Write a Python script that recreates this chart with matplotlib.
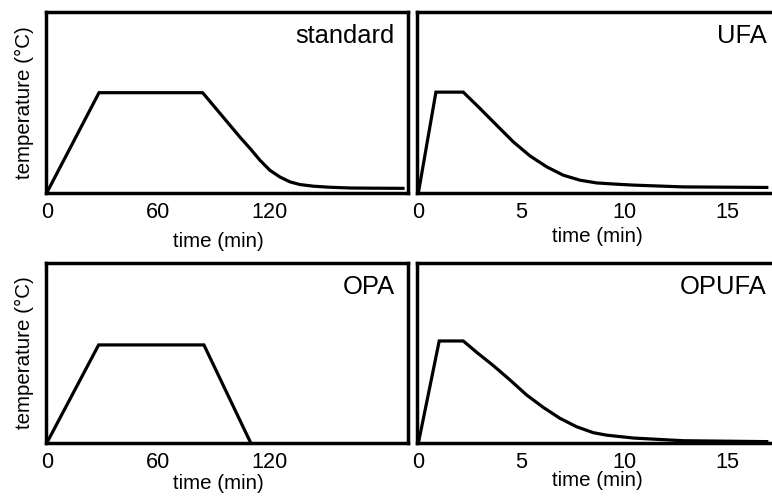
import matplotlib
matplotlib.use("Agg")
import matplotlib.pyplot as plt

plt.rcParams['font.family'] = ['Liberation Sans', 'DejaVu Sans']

# ---- data (time in min, temperature in relative units) ----
standard_t = [0, 28.1, 84.0, 104.2, 109.6, 114.9, 120.3, 125.7, 131.1, 136.5,
              143.7, 152.7, 163.5, 174.3, 192.1]
standard_T = [0, 55.3, 55.3, 30.6, 24.4, 17.9, 12.3, 8.6, 5.9, 4.4,
              3.5, 2.9, 2.5, 2.4, 2.3]

opa_t = [0, 27.9, 84.7, 109.9]
opa_T = [0, 54.5, 54.5, 0]

ufa_t = [0, 0.85, 2.18, 2.99, 3.80, 4.61, 5.42, 6.24, 7.04, 7.86, 8.67, 9.64,
         10.45, 12.88, 16.94]
ufa_T = [0, 55.6, 55.6, 46.6, 37.3, 28.1, 20.3, 14.2, 9.6, 6.8, 5.3, 4.6,
         4.1, 3.1, 2.8]

opufa_t = [0, 1.01, 2.18, 2.83, 3.64, 4.45, 5.26, 6.07, 6.88, 7.69, 8.50, 9.15,
           10.45, 12.88, 16.94]
opufa_T = [0, 56.7, 56.7, 50.4, 43.0, 35.0, 26.6, 19.7, 13.6, 8.9, 5.6, 4.2,
           2.6, 1.1, 0.6]

long_ticks = [0, 60, 120]
short_ticks = [0, 5, 10, 15]
panel_names = ["standard", "UFA", "OPA", "OPUFA"]

W, H = 772, 501
fig = plt.figure(figsize=(W / 100, H / 100), dpi=100)

def px_axes(l, t, r, b):
    return fig.add_axes([l / W, 1 - b / H, (r - l) / W, (b - t) / H])

ax1 = px_axes(46, 12, 408, 192.5)
ax2 = px_axes(417, 12, 775, 192.5)
ax3 = px_axes(46, 263.3, 408, 442.7)
ax4 = px_axes(417, 263.3, 775, 442.7)

specs = [
    (ax1, standard_t, standard_T, long_ticks, (-0.5, 194.8), panel_names[0], True, (0.475, -0.27), 0.964, 0.828),
    (ax2, ufa_t, ufa_T, short_ticks, (-0.07, 17.34), panel_names[1], False, (0.504, -0.245), 0.977, 0.828),
    (ax3, opa_t, opa_T, long_ticks, (-0.5, 194.8), panel_names[2], True, (0.475, -0.225), 0.964, 0.827),
    (ax4, opufa_t, opufa_T, short_ticks, (-0.07, 17.34), panel_names[3], False, (0.504, -0.213), 0.977, 0.827),
]

for ax, t, T, ticks, xl, name, ylab, xlab_pos, tx, ty in specs:
    ax.plot(t, T, color='black', lw=2.3, solid_joinstyle='miter', clip_on=True)
    ax.set_xlim(*xl)
    ax.set_ylim(0, 100)
    ax.set_xticks(ticks)
    ax.set_xticklabels([str(v) for v in ticks])
    ax.set_yticks([])
    ax.tick_params(axis='x', length=0, pad=7, labelsize=15.6)
    for s in ax.spines.values():
        s.set_linewidth(2.5)
        s.set_color('black')
    ax.set_xlabel("time (min)", fontsize=14.8)
    ax.xaxis.set_label_coords(*xlab_pos)
    ax.xaxis.label.set_va('center')
    if ylab:
        ax.set_ylabel("temperature (°C)", fontsize=14.8)
        ax.yaxis.set_label_coords(-0.0608, 0.5)
        ax.yaxis.label.set_va('center')
    ax.text(tx, ty, name, transform=ax.transAxes, ha='right', va='baseline', fontsize=18.4)

fig.savefig("out.png", dpi=100)
